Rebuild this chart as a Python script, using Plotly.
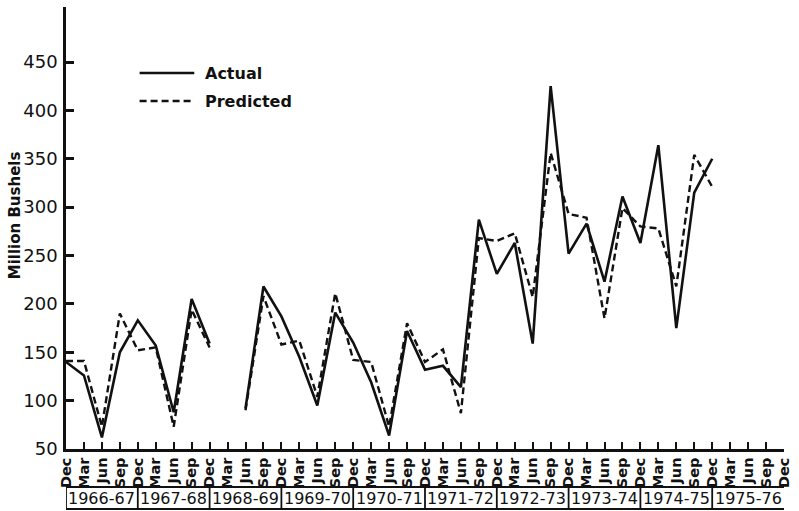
import plotly.graph_objects as go

# Quarterly months along the axis (Dec 1966 .. Dec 1976)
months = ["Dec", "Mar", "Jun", "Sep"] * 10 + ["Dec"]
seasons = ["1966-67", "1967-68", "1968-69", "1969-70", "1970-71",
           "1971-72", "1972-73", "1973-74", "1974-75", "1975-76"]

# Quarterly stocks, million bushels (None = no observation)
actual = [140, 126, 62, 150, 183, 157, 88, 205, 159, None,
          92, 218, 187, 145, 95, 191, 160, 119, 64, 172,
          132, 136, 114, 287, 231, 263, 159, 425, 252, 283,
          223, 311, 263, 364, 175, 315, 350]
predicted = [141, 141, 73, 190, 152, 155, 73, 194, 155, None,
             90, 208, 158, 162, 104, 211, 142, 140, 73, 180,
             140, 153, 87, 268, 265, 273, 207, 356, 293, 289,
             185, 299, 280, 278, 218, 354, 321]

y_ticks = [50, 100, 150, 200, 250, 300, 350, 400, 450]

W, H = 799, 511
L, R, T, B = 66, 11, 7, 62
PW, PH = W - L - R, H - T - B

def px(x):
    return (x - L) / PW

def py(y):
    return (H - B - y) / PH

FONT = "DejaVu Sans"
INK = "#111111"

fig = go.Figure()
fig.add_trace(go.Scatter(x=list(range(len(actual))), y=actual, mode="lines",
                         line=dict(color=INK, width=2.6), name="Actual",
                         connectgaps=False))
fig.add_trace(go.Scatter(x=list(range(len(predicted))), y=predicted, mode="lines",
                         line=dict(color=INK, width=2.4, dash="7px,4px"),
                         name="Predicted", connectgaps=False))

shapes = []
annotations = []

# legend samples
for ypix, dash, label in [(73, "solid", "Actual"), (101, "7px,4px", "Predicted")]:
    shapes.append(dict(type="line", xref="paper", yref="paper",
                       x0=px(140), x1=px(195), y0=py(ypix), y1=py(ypix),
                       line=dict(color=INK, width=2.4, dash=dash)))
    annotations.append(dict(text=label, xref="paper", yref="paper",
                            x=px(204), y=py(ypix), xanchor="left", yanchor="middle",
                            showarrow=False,
                            font=dict(family=FONT, size=16, color=INK, weight="bold")))

# season boxes under the month labels
box_top, box_bot = py(487), py(509)
n = len(seasons)
shapes.append(dict(type="rect", xref="x", yref="paper", x0=0, x1=4 * n + 0.25,
                   y0=box_bot, y1=box_top, line=dict(color=INK, width=1.8)))
for k in range(1, n):
    shapes.append(dict(type="line", xref="x", yref="paper", x0=4 * k, x1=4 * k,
                       y0=box_bot, y1=box_top, line=dict(color=INK, width=1.8)))
for k, s in enumerate(seasons):
    annotations.append(dict(text=s, xref="x", yref="paper", x=4 * k + 2,
                            y=(box_top + box_bot) / 2, xanchor="center", yanchor="middle",
                            showarrow=False, font=dict(family=FONT, size=16, color=INK)))

# y axis title
annotations.append(dict(text="Million Bushels", xref="paper", yref="paper",
                        x=px(15), y=py(215), textangle=-90, xanchor="center",
                        yanchor="middle", showarrow=False,
                        font=dict(family=FONT, size=15, color=INK, weight="bold")))

fig.update_layout(
    width=W, height=H,
    margin=dict(l=L, r=R, t=T, b=B),
    paper_bgcolor="white", plot_bgcolor="white",
    showlegend=False,
    shapes=shapes, annotations=annotations,
    xaxis=dict(range=[0, 40], tickmode="array", tickvals=list(range(len(months))),
               ticktext=months, tickangle=-90, ticks="inside", ticklen=7,
               tickwidth=2, tickcolor=INK, showline=True, linecolor=INK, linewidth=2.5,
               showgrid=False, zeroline=False,
               tickfont=dict(family=FONT, size=14.5, color=INK, weight="bold")),
    yaxis=dict(range=[50, 50 + (H - B - T) / 0.9675], tickmode="array", tickvals=y_ticks,
               ticks="inside", ticklen=8, tickwidth=2.5, tickcolor=INK,
               showline=True, linecolor=INK, linewidth=2.5, showgrid=False,
               zeroline=False, ticklabelstandoff=2,
               tickfont=dict(family=FONT, size=18, color=INK)),
)

fig.write_html("out.html")
